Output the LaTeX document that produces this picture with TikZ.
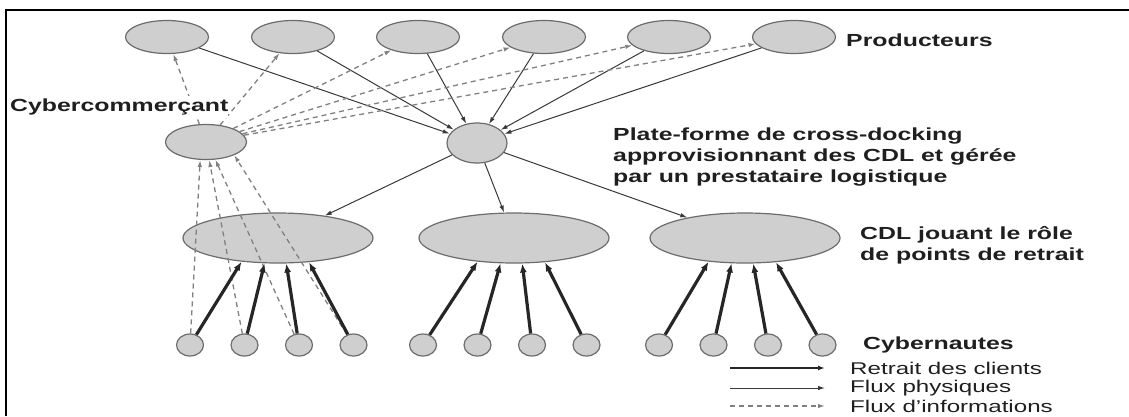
\documentclass[tikz,border=0pt]{standalone}
\usepackage{fontspec}
\setmainfont{Liberation Sans}[FakeStretch=1.42]
\usepackage{tikz}
\usetikzlibrary{shapes,arrows,positioning,calc,arrows.meta}

\begin{document}
\begin{tikzpicture}[x=1pt, y=-1pt, >={Latex[length=7pt,width=4.5pt]},
    ell/.style={ellipse, draw=gray!85!black, fill=gray!38, line width=1.2pt, inner sep=0pt},
    prod/.style={ell, minimum width=83pt, minimum height=33pt},
    cdl/.style={ell, minimum width=190pt, minimum height=50pt},
    client/.style={ell, minimum width=27pt, minimum height=22pt},
    lbl/.style={font=\fontsize{17.5}{21}\selectfont\bfseries, text=black!88, align=left, anchor=west, inner sep=0pt},
    leg/.style={font=\fontsize{17}{20}\selectfont, text=black!88, anchor=west, inner sep=0pt},
    phys/.style={->, line width=1pt, draw=gray!45!black},
    info/.style={->, line width=1.3pt, draw=black!50, dash pattern=on 5pt off 4pt},
    retrait/.style={->, line width=3.2pt, draw=black!85, >={Latex[length=9pt,width=7pt]}}]
    \useasboundingbox (0,0) rectangle (1129,416);
    \draw[line width=2.5pt] (6,416) -- (6,10) -- (1129,10);

    % producteurs, cybercommercant, plate-forme
    \foreach \i/\x in {1/167,2/293,3/418,4/544,5/669,6/794}
        \node[prod] (p\i) at (\x,37) {};
    \node[ell, minimum width=81pt, minimum height=35pt] (cyber) at (206,142) {};
    \node[ell, minimum width=60pt, minimum height=40pt] (xdock) at (477,143) {};

    % CDL and cybernautes
    \foreach \j/\x in {1/278,2/514,3/745}
        \node[cdl] (cdl\j) at (\x,238) {};
    \foreach \j/\x in {1/190,2/423,3/659}
        \foreach \k in {1,...,4}
            \node[client] (c\j\k) at ({\x+(\k-1)*54.5},345) {};

    % flux
    \foreach \i in {1,...,6}
        \draw[phys] (p\i) -- (xdock);
    \foreach \j in {1,2,3}
        \draw[phys] (xdock) -- (cdl\j);
    \foreach \i in {1,...,6}
        \draw[info] (cyber) -- (p\i);
    \foreach \k/\a in {1/-108,2/-80,3/-62,4/-25}
        \draw[info] (c1\k) -- (cyber.\a);
    \foreach \j in {1,2,3}
        \foreach \k/\a in {1/-147,2/-118,3/-72,4/-38}
            \draw[retrait] (c\j\k) -- (cdl\j.\a);

    % labels
    \node[lbl, fill=white, inner ysep=3pt] (lcyber) at (10,107) {Cybercommerçant};
    \node[lbl] (lprod) at (846,40) {Producteurs};
    \node[lbl] (lxdock) at (613,157) {Plate-forme de cross-docking\\approvisionnant des CDL et gérée\\par un prestataire logistique};
    \node[lbl] (lcdl) at (860,245) {CDL jouant le rôle\\de points de retrait};
    \node[lbl] (lclient) at (863,345) {Cybernautes};

    % legende
    \coordinate (r0) at (730,368); \coordinate (r1) at (825,368);
    \coordinate (f0) at (730,388); \coordinate (f1) at (825,388);
    \coordinate (i0) at (730,406); \coordinate (i1) at (825,406);
    \draw[retrait, line width=2.5pt, >={Latex[length=7pt,width=5pt]}] (r0) -- (r1);
    \draw[phys] (f0) -- (f1);
    \draw[info] (i0) -- (i1);
    \node[leg] (lr) at (850,368) {Retrait des clients};
    \node[leg] (lf) at (850,388) {Flux physiques};
    \node[leg] (li) at (850,406) {Flux d'informations};
\end{tikzpicture}
\end{document}
